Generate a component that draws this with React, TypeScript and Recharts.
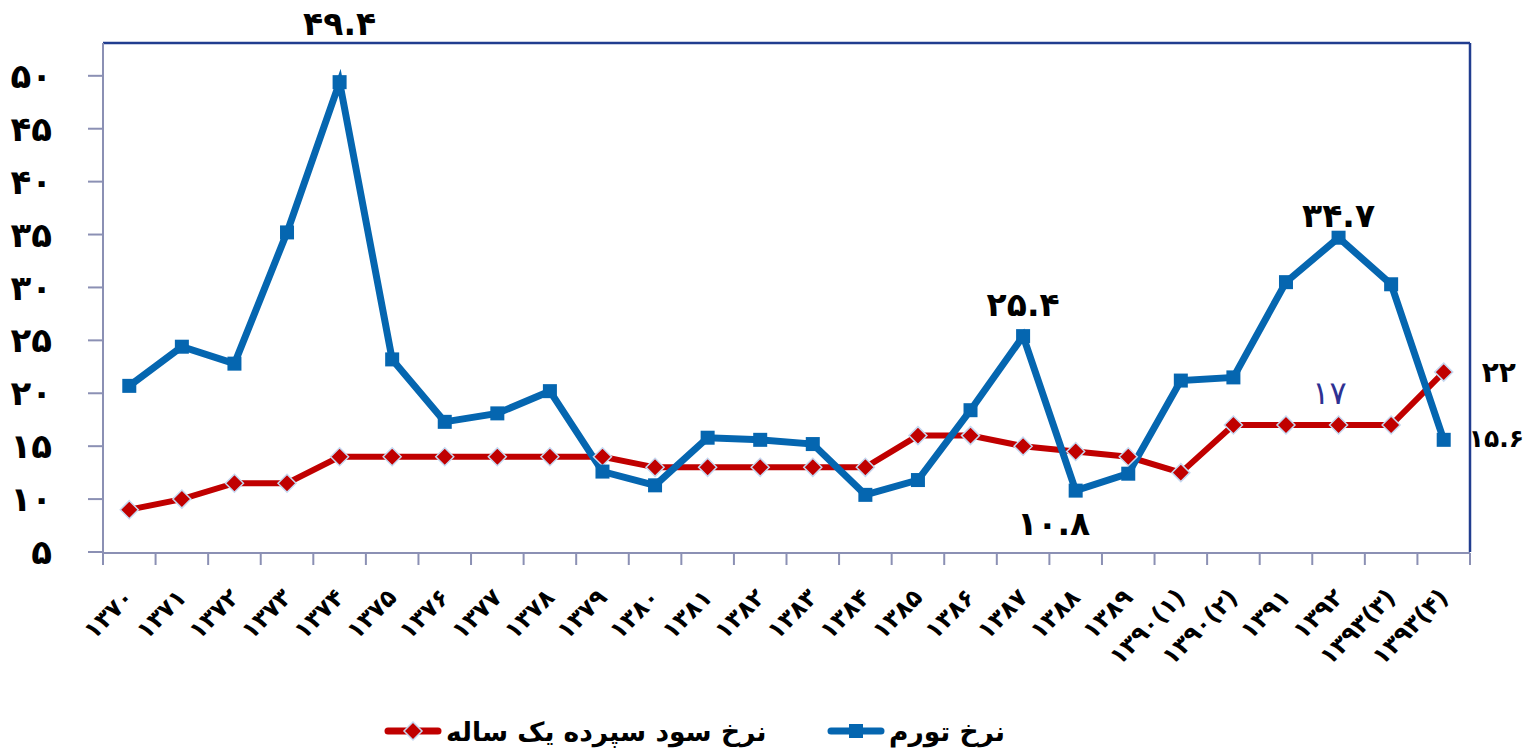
import React from 'react'
import { LineChart, Line, XAxis, YAxis, Legend } from 'recharts'

// categories (Persian years) and the two series
const years = [
  '۱۳۷۰', '۱۳۷۱', '۱۳۷۲', '۱۳۷۳', '۱۳۷۴', '۱۳۷۵', '۱۳۷۶', '۱۳۷۷', '۱۳۷۸', '۱۳۷۹',
  '۱۳۸۰', '۱۳۸۱', '۱۳۸۲', '۱۳۸۳', '۱۳۸۴', '۱۳۸۵', '۱۳۸۶', '۱۳۸۷', '۱۳۸۸', '۱۳۸۹',
  '۱۳۹۰(۱)', '۱۳۹۰(۲)', '۱۳۹۱', '۱۳۹۲', '۱۳۹۳(۳)', '۱۳۹۳(۴)',
]
const inflation = [
  20.7, 24.4, 22.8, 35.2, 49.4, 23.2, 17.3, 18.1, 20.2, 12.6,
  11.3, 15.8, 15.6, 15.2, 10.4, 11.8, 18.4, 25.4, 10.8, 12.4,
  21.2, 21.5, 30.5, 34.7, 30.3, 15.6,
]
const depositRate = [
  9, 10, 11.5, 11.5, 14, 14, 14, 14, 14, 14,
  13, 13, 13, 13, 13, 16, 16, 15, 14.5, 14,
  12.5, 17, 17, 17, 17, 22,
]
const yTicks = [5, 10, 15, 20, 25, 30, 35, 40, 45, 50]
const inflationName = 'نرخ تورم'
const depositName = 'نرخ سود سپرده یک ساله'

const data = years.map((year, i) => ({ year, inflation: inflation[i], deposit: depositRate[i], slot: i }))
const slotTicks = years.map((_, i) => i).concat(years.length)

const FONT = '"DejaVu Sans", sans-serif'
const BLUE = '#0566b0'
const RED = '#c00000'
const AXIS = '#8b90b4'
const FRAME = '#213d8f'

const fa = (v: number | string) => String(v).replace(/\d/g, d => '۰۱۲۳۴۵۶۷۸۹'[Number(d)])

// which points carry a value label, and where it sits
const inflationLabels: Record<number, any> = {
  4: { dx: 0, dy: -59, anchor: 'middle' },
  17: { dx: 0, dy: -32, anchor: 'middle' },
  18: { dx: -22, dy: 33, anchor: 'middle' },
  23: { dx: 0, dy: -22, anchor: 'middle' },
  25: { dx: 25, dy: -2, anchor: 'start', size: 25 },
}
const depositLabels: Record<number, any> = {
  23: { dx: -9, dy: -32, anchor: 'middle', color: '#2e3192', weight: 400, size: 32 },
  25: { dx: 38, dy: 0, anchor: 'start', size: 28 },
}

const makeLabel = (cfg: Record<number, any>) => (props: any) => {
  const { x, y, value, index } = props
  const c = cfg[index]
  if (!c || x == null) return null
  return (
    <text
      key={`lbl-${index}`}
      x={x + c.dx}
      y={y + c.dy}
      dy="0.35em"
      textAnchor={c.anchor}
      fill={c.color || '#000'}
      fontWeight={c.weight || 700}
      fontSize={c.size || 33}
      fontFamily={FONT}
    >
      {fa(value)}
    </text>
  )
}

const SquareDot = (props: any) => {
  const { cx, cy, index } = props
  if (cx == null) return null
  return <rect key={`sq-${index}`} x={cx - 7} y={cy - 7} width={14} height={14} fill={BLUE} />
}

const DiamondDot = (props: any) => {
  const { cx, cy, index } = props
  if (cx == null) return null
  return (
    <path
      key={`dm-${index}`}
      d={`M${cx},${cy - 9}L${cx + 9},${cy}L${cx},${cy + 9}L${cx - 9},${cy}Z`}
      fill={RED}
      stroke="#c6d9f1"
      strokeWidth={1.5}
    />
  )
}

const YearTick = (props: any) => {
  const { x, y, payload } = props
  return (
    <g transform={`translate(${x},${y + 41})`}>
      <text
        textAnchor="end"
        dy="0.35em"
        transform="rotate(-45)"
        fill="#000"
        fontSize={24}
        fontWeight={700}
        fontFamily={FONT}
      >
        {payload.value}
      </text>
    </g>
  )
}

const LegendIcon = ({ color, shape }: { color: string; shape: 'diamond' | 'square' }) => (
  <svg width={58} height={24} style={{ display: 'block' }}>
    <line x1={4} y1={12} x2={54} y2={12} stroke={color} strokeWidth={7} strokeLinecap="round" />
    {shape === 'square' ? (
      <rect x={22} y={5} width={14} height={14} fill={color} />
    ) : (
      <path d="M29,3L38,12L29,21L20,12Z" fill={color} stroke="#c6d9f1" strokeWidth={1.5} />
    )}
  </svg>
)

const LegendContent = () => {
  const item = (left: number, color: string, shape: 'diamond' | 'square', text: string) => (
    <div style={{ position: 'absolute', left, top: 0, height: 40, display: 'flex', alignItems: 'center', gap: 4 }}>
      <LegendIcon color={color} shape={shape} />
      <span style={{ fontFamily: FONT, fontWeight: 700, fontSize: 26.5, color: '#000' }}>{text}</span>
    </div>
  )
  return (
    <div style={{ position: 'relative', width: 1525, height: 40 }}>
      {item(384, RED, 'diamond', depositName)}
      {item(827, BLUE, 'square', inflationName)}
    </div>
  )
}

export default function App() {
  return (
    <div style={{ position: 'absolute', left: 0, top: 0, width: 1525, height: 751, background: '#fff' }}>
      <LineChart width={1525} height={751} data={data} margin={{ top: 42, right: 54, bottom: 157, left: 0 }}>
        <XAxis
          xAxisId="slots"
          type="number"
          dataKey="slot"
          domain={[0, years.length]}
          ticks={slotTicks}
          interval={0}
          height={1}
          tickSize={12}
          tickFormatter={() => ''}
          axisLine={{ stroke: AXIS, strokeWidth: 2 }}
          tickLine={{ stroke: AXIS, strokeWidth: 2 }}
        />
        <XAxis
          xAxisId="cat"
          dataKey="year"
          scale="band"
          interval={0}
          height={1}
          axisLine={false}
          tickLine={false}
          tickSize={0}
          tickMargin={0}
          tick={<YearTick />}
        />
        <XAxis
          xAxisId="top"
          orientation="top"
          dataKey="year"
          height={1}
          tick={false}
          tickLine={false}
          axisLine={{ stroke: FRAME, strokeWidth: 2.5 }}
        />
        <YAxis
          yAxisId="left"
          domain={[5, 53.1]}
          ticks={yTicks}
          interval={0}
          width={103}
          tickSize={15}
          tickMargin={36}
          tickFormatter={fa}
          tick={{ fill: '#000', fontSize: 34, fontWeight: 700, fontFamily: FONT }}
          axisLine={{ stroke: AXIS, strokeWidth: 2 }}
          tickLine={{ stroke: AXIS, strokeWidth: 2 }}
        />
        <YAxis
          yAxisId="right"
          orientation="right"
          domain={[5, 53.1]}
          width={1}
          tick={false}
          tickLine={false}
          axisLine={{ stroke: FRAME, strokeWidth: 2.5 }}
        />
        <Legend
          verticalAlign="bottom"
          content={<LegendContent />}
          wrapperStyle={{ left: 0, bottom: 0, width: 1525, height: 40 }}
        />
        <Line
          xAxisId="cat"
          yAxisId="left"
          dataKey="deposit"
          name={depositName}
          stroke={RED}
          strokeWidth={6}
          dot={<DiamondDot />}
          label={makeLabel(depositLabels)}
          isAnimationActive={false}
        />
        <Line
          xAxisId="cat"
          yAxisId="left"
          dataKey="inflation"
          name={inflationName}
          stroke={BLUE}
          strokeWidth={7}
          dot={<SquareDot />}
          label={makeLabel(inflationLabels)}
          isAnimationActive={false}
        />
      </LineChart>
    </div>
  )
}
